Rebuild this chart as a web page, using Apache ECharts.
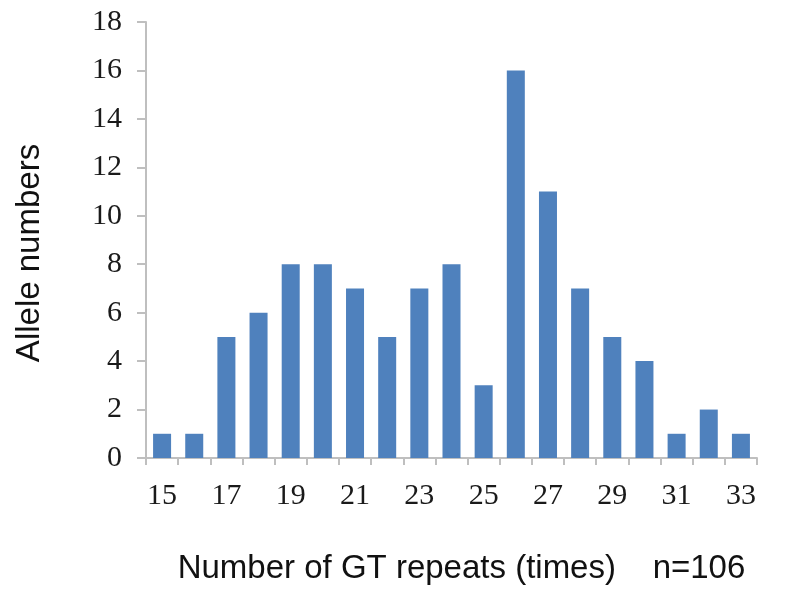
<!DOCTYPE html>
<html>
<head>
<meta charset="utf-8">
<script src="https://cdn.jsdelivr.net/npm/echarts@6/dist/echarts.min.js"></script>
<style>
  html, body { margin: 0; padding: 0; background: #fff; }
  #chart { width: 788px; height: 590px; }
</style>
</head>
<body>
<div id="chart"></div>
<script>
// GT repeat counts and how many alleles had each
const repeats = ['15', '16', '17', '18', '19', '20', '21', '22', '23', '24',
                 '25', '26', '27', '28', '29', '30', '31', '32', '33'];
const alleleCounts = [1, 1, 5, 6, 8, 8, 7, 5, 7, 8, 3, 16, 11, 7, 5, 4, 1, 2, 1];
const yMax = 18;
const yStep = 2;

const axisGrey = '#bfbfbf';
const serif = '"Liberation Serif", "Times New Roman", serif';
const sans = '"Liberation Sans", Arial, sans-serif';

let myChart = echarts.init(document.getElementById('chart'));

let option = {
    animation: false,
    grid: { left: 146, right: 31, top: 22, bottom: 131 },
    xAxis: {
        type: 'category',
        data: repeats,
        axisLine: { lineStyle: { color: axisGrey, width: 2 } },
        axisTick: { show: true, length: 7, interval: 0, lineStyle: { color: axisGrey, width: 2 } },
        axisLabel: {
            interval: 1,
            margin: 23,
            color: '#1a1a1a',
            fontFamily: serif,
            fontSize: 30
        },
        name: 'Number of GT repeats (times)    n=106',
        nameLocation: 'middle',
        nameGap: 94,
        nameTextStyle: { color: '#111', fontFamily: sans, fontSize: 33, padding: [0, 0, 0, 20] }
    },
    yAxis: {
        type: 'value',
        min: 0,
        max: yMax,
        interval: yStep,
        splitLine: { show: false },
        axisLine: { show: true, lineStyle: { color: axisGrey, width: 2 } },
        axisTick: { show: true, length: 9, lineStyle: { color: axisGrey, width: 2 } },
        axisLabel: {
            margin: 24,
            color: '#1a1a1a',
            fontFamily: serif,
            fontSize: 30
        }
    },
    graphic: [{
        type: 'text',
        x: 30,
        y: 253,
        rotation: Math.PI / 2,
        style: {
            text: 'Allele numbers',
            fill: '#111',
            font: '33px ' + sans,
            textAlign: 'center',
            textVerticalAlign: 'middle'
        }
    }],
    series: [{
        type: 'bar',
        data: alleleCounts,
        barCategoryGap: '44%',
        itemStyle: { color: '#4f81bd' }
    }]
};

myChart.setOption(option);
</script>
</body>
</html>
